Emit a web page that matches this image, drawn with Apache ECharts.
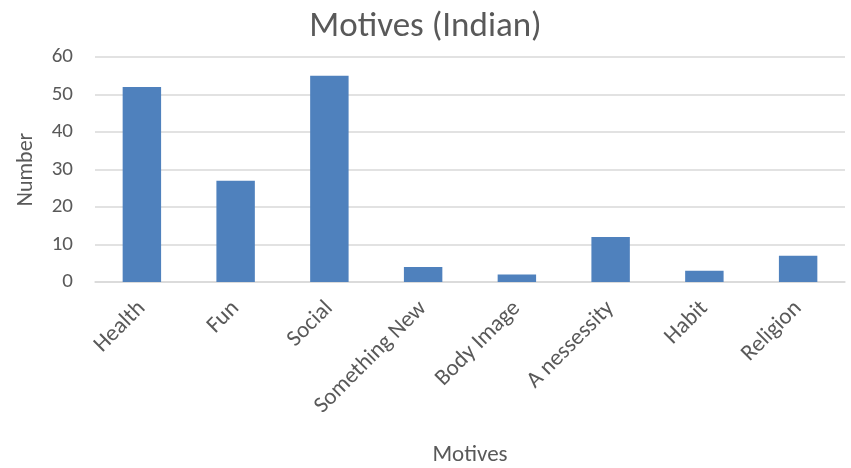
<!DOCTYPE html>
<html>
<head>
<meta charset="utf-8">
<script src="https://cdn.jsdelivr.net/npm/echarts@6/dist/echarts.min.js"></script>
<style>
  html, body { margin: 0; padding: 0; background: #ffffff; }
  #chart { width: 851px; height: 468px; }
</style>
</head>
<body>
<div id="chart"></div>
<script>
// Survey answers: why respondents take part (Indian group)
const categories = ['Health', 'Fun', 'Social', 'Something New', 'Body Image', 'A nessessity', 'Habit', 'Religion'];
const counts = [52, 27, 55, 4, 2, 12, 3, 7];
const yTicks = { min: 0, max: 60, interval: 10 };

const FONT = 'Carlito, Calibri, Lato, sans-serif';
const TEXT = '#595959';

const chart = echarts.init(document.getElementById('chart'), null, { renderer: 'canvas' });
chart.setOption({
  animation: false,
  backgroundColor: '#ffffff',
  title: {
    text: 'Motives (Indian)',
    left: 'center',
    top: 5,
    textStyle: { fontFamily: FONT, fontSize: 35, fontWeight: 'normal', color: TEXT }
  },
  grid: { left: 95, right: 6, top: 57, bottom: 185.5, containLabel: false },
  xAxis: {
    type: 'category',
    data: categories,
    name: 'Motives',
    nameLocation: 'middle',
    nameGap: 162,
    nameTextStyle: { fontFamily: FONT, fontSize: 23, color: TEXT },
    axisLine: { show: true, lineStyle: { color: '#d9d9d9', width: 1.5 } },
    axisTick: { show: false },
    axisLabel: { rotate: 45, margin: 23, fontFamily: FONT, fontSize: 23, color: TEXT, interval: 0 }
  },
  yAxis: {
    type: 'value',
    min: yTicks.min,
    max: yTicks.max,
    interval: yTicks.interval,
    name: 'Number',
    nameLocation: 'middle',
    nameGap: 58,
    nameTextStyle: { fontFamily: FONT, fontSize: 22, color: TEXT },
    axisLine: { show: false },
    axisTick: { show: false },
    axisLabel: { margin: 22, fontFamily: FONT, fontSize: 21, color: TEXT },
    splitLine: { lineStyle: { color: '#d9d9d9', width: 1.5 } }
  },
  series: [{
    type: 'bar',
    data: counts,
    barWidth: '41%',
    itemStyle: { color: '#4f81bd' }
  }]
});
</script>
</body>
</html>
